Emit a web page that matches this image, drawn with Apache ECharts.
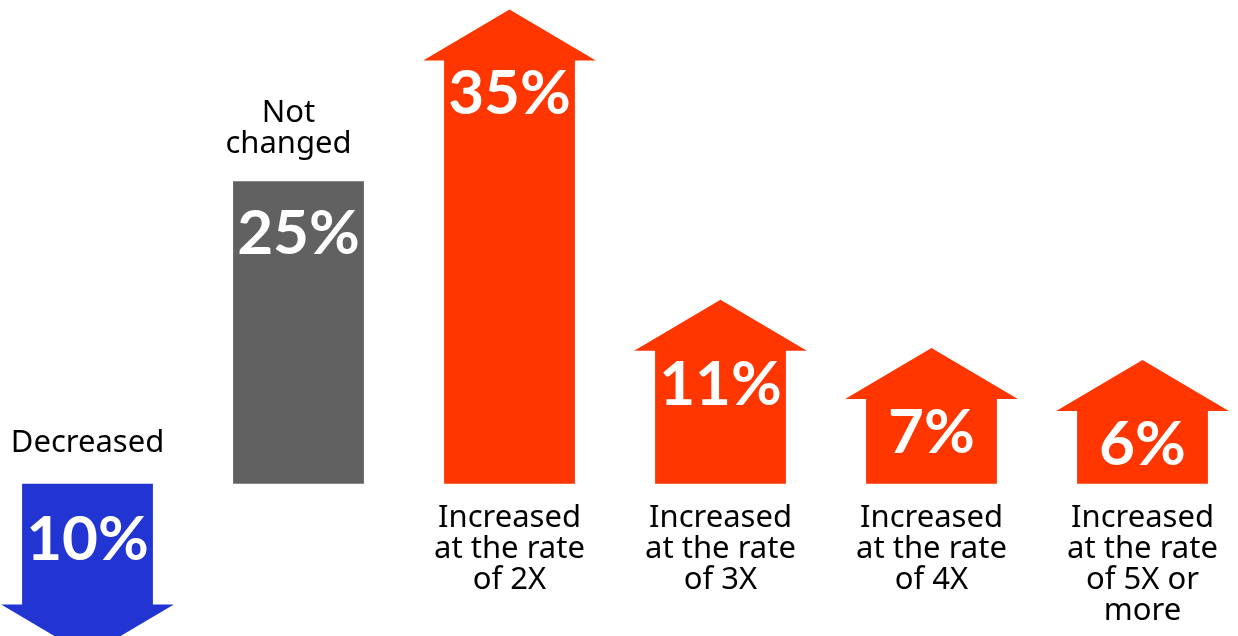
<!DOCTYPE html>
<html>
<head>
<meta charset="utf-8">
<script src="https://cdn.jsdelivr.net/npm/echarts@6/dist/echarts.min.js"></script>
<style>
  html, body { margin: 0; padding: 0; background: #fff; overflow: hidden; }
  /* slightly wider than the window so the outer categories sit near the edges */
  #chart { width: 1266px; height: 636px; margin-left: -18px; }
</style>
</head>
<body>
<div id="chart"></div>
<script>
// chart data
var categories = ['Decreased', 'Not changed', 'Increased at the rate of 2X',
                  'Increased at the rate of 3X', 'Increased at the rate of 4X',
                  'Increased at the rate of 5X or more'];
var categoryLabels = ['Decreased', 'Not\nchanged', 'Increased\nat the rate\nof 2X',
                      'Increased\nat the rate\nof 3X', 'Increased\nat the rate\nof 4X',
                      'Increased\nat the rate\nof 5X or\nmore'];
var shares = [10, 25, 35, 11, 7, 6];
var directions = ['down', 'flat', 'up', 'up', 'up', 'up'];

var colors = { down: '#2234d2', flat: '#616161', up: '#ff3600' };
var labelFont = '400 31px "Noto Sans", sans-serif';
var valueFont = '700 62px Lato, "Noto Sans", sans-serif';

function renderItem(params, api) {
    var i = api.value(0);
    var v = api.value(1);
    var dir = directions[i];
    var base = api.coord([i, 0]);
    var end = api.coord([i, v]);
    var band = api.size([1, 0])[0];
    var w = band * 0.62;
    var ext = w * 0.16;      // how far the arrow head sticks out
    var hh = 51;             // arrow head height
    var cx = base[0];
    var y0 = base[1];
    var y1 = end[1];
    var children = [];

    if (dir === 'flat') {
        children.push({
            type: 'rect',
            shape: { x: cx - w / 2, y: y1, width: w, height: y0 - y1 },
            style: { fill: colors.flat }
        });
    } else {
        var s = dir === 'up' ? -1 : 1;
        children.push({
            type: 'polygon',
            shape: { points: [
                [cx - w / 2, y0], [cx - w / 2, y1], [cx - w / 2 - ext, y1],
                [cx, y1 + s * hh],
                [cx + w / 2 + ext, y1], [cx + w / 2, y1], [cx + w / 2, y0]
            ] },
            style: { fill: colors[dir] }
        });
    }

    // value label inside the shape
    var vy;
    if (dir === 'up') vy = y1 + 34;
    else if (dir === 'flat') vy = y1 + 53;
    else vy = (y0 + y1) / 2 - 4;
    children.push({
        type: 'text',
        x: cx, y: vy,
        style: { text: shares[i] + '%', fill: '#fff', font: valueFont,
                 align: 'center', verticalAlign: 'middle' }
    });

    // category label
    var ly, va;
    if (dir === 'up') { ly = y0 + 19; va = 'top'; }
    else if (dir === 'flat') { ly = y1 - 22; va = 'bottom'; }
    else { ly = y0 - 25; va = 'bottom'; }
    children.push({
        type: 'text',
        x: cx - (dir === 'flat' ? 10 : 0), y: ly,
        style: { text: categoryLabels[i], fill: '#000', font: labelFont,
                 lineHeight: 31, align: 'center', verticalAlign: va }
    });

    return { type: 'group', children: children };
}

var myChart = echarts.init(document.getElementById('chart'));
myChart.setOption({
    animation: false,
    grid: { left: 0, right: 0, top: 0, bottom: 0 },
    xAxis: { type: 'category', data: categories, show: false },
    yAxis: { type: 'value', min: -12.6, max: 40, show: false },
    series: [{
        type: 'custom',
        renderItem: renderItem,
        encode: { x: 0, y: 1 },
        data: shares.map(function (s, i) {
            return [i, directions[i] === 'down' ? -s : s];
        })
    }]
});
</script>
</body>
</html>
